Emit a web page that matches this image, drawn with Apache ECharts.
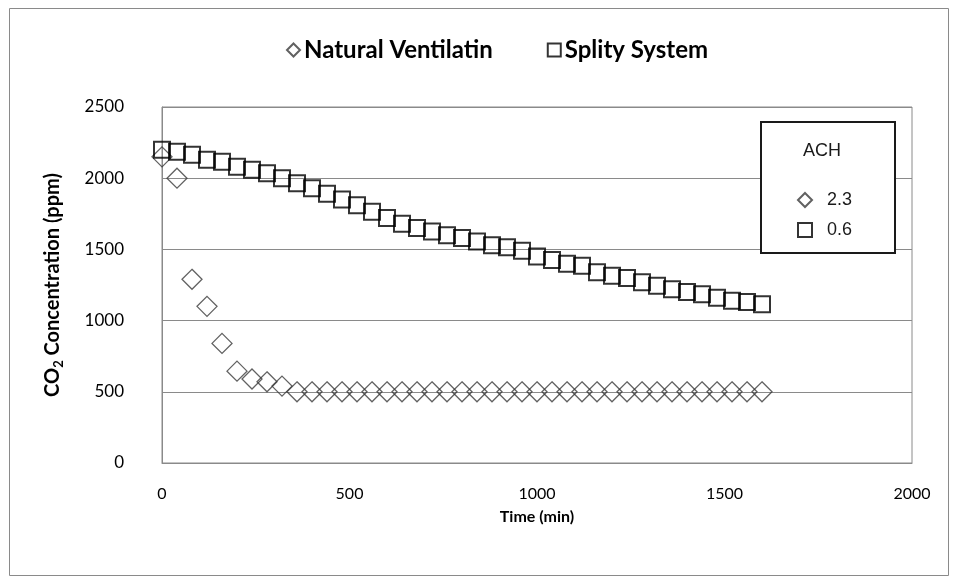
<!DOCTYPE html>
<html>
<head>
<meta charset="utf-8">
<script src="https://cdn.jsdelivr.net/npm/echarts@6/dist/echarts.min.js"></script>
<style>html,body{margin:0;padding:0;background:#fff;}#c{width:959px;height:581px;}</style>
</head>
<body>
<div id="c"></div>
<script>
const seriesNames = ['Natural Ventilatin', 'Splity System'];
const achLabels = ['2.3', '0.6'];
const timeMin = [0,40,80,120,160,200,240,280,320,360,400,440,480,520,560,600,640,680,720,760,800,840,880,920,960,1000,1040,1080,1120,1160,1200,1240,1280,1320,1360,1400,1440,1480,1520,1560,1600];
const naturalCO2 = [2150,2000,1290,1100,840,645,590,570,540,500,500,500,500,500,500,500,500,500,500,500,500,500,500,500,500,500,500,500,500,500,500,500,500,500,500,500,500,500,500,500,500];
const splityCO2 = [2200,2185,2165,2130,2115,2080,2060,2035,2000,1965,1930,1890,1850,1810,1765,1720,1680,1650,1625,1600,1580,1555,1530,1515,1490,1450,1425,1400,1385,1340,1315,1300,1270,1245,1220,1200,1185,1160,1140,1130,1115];
const xTicks = {min: 0, max: 2000, interval: 500};
const yTicks = {min: 0, max: 2500, interval: 500};

const chart = echarts.init(document.getElementById('c'), null, {renderer: 'canvas'});
const font = 'Lato, "Open Sans", sans-serif';
const plain = v => String(v);
chart.setOption({
  animation: false,
  backgroundColor: '#fff',
  grid: {left: 162, right: 47, top: 107, bottom: 118, show: true, borderColor: '#8a8a8a', borderWidth: 1, backgroundColor: 'transparent'},
  xAxis: {
    type: 'value', min: xTicks.min, max: xTicks.max, interval: xTicks.interval,
    name: 'Time (min)', nameLocation: 'middle', nameGap: 46,
    nameTextStyle: {fontFamily: font, fontWeight: 'bold', fontSize: 16, color: '#000'},
    axisLine: {show: true, lineStyle: {color: '#8a8a8a'}},
    axisTick: {show: false},
    axisLabel: {margin: 23, fontFamily: font, fontSize: 16, color: '#000', formatter: plain},
    splitLine: {show: false}
  },
  yAxis: {
    type: 'value', min: yTicks.min, max: yTicks.max, interval: yTicks.interval,
    name: 'CO{s|2} Concentration (ppm)', nameLocation: 'middle', nameGap: 97,
    nameTextStyle: {fontFamily: font, fontWeight: 'bold', fontSize: 20, color: '#000',
      rich: {s: {fontFamily: font, fontWeight: 'bold', fontSize: 13, color: '#000', padding: [12, 0, 0, 0]}}},
    axisLine: {show: true, lineStyle: {color: '#8a8a8a'}},
    axisTick: {show: false},
    axisLabel: {margin: 38, fontFamily: font, fontSize: 17, color: '#000', formatter: plain},
    splitLine: {show: true, lineStyle: {color: '#8a8a8a', width: 1}}
  },
  legend: [{
    data: [{name: seriesNames[0], icon: 'diamond'}, {name: seriesNames[1], icon: 'rect'}],
    top: 33, left: 281, itemWidth: 13, itemHeight: 13, itemGap: 54,
    textStyle: {fontFamily: font, fontWeight: 'bold', fontSize: 24, color: '#000', padding: [0,0,0,-1]}
  }, {
    data: [{name: seriesNames[0], icon: 'diamond'}, {name: seriesNames[1], icon: 'rect'}],
    orient: 'vertical', left: 792, top: 186, itemWidth: 14, itemHeight: 14, itemGap: 12, z: 30,
    formatter: function (n) { return achLabels[seriesNames.indexOf(n)]; },
    textStyle: {fontFamily: '"Liberation Sans", Arial, sans-serif', fontSize: 18, color: '#1a1a1a', padding: [0,0,0,10]}
  }],
  graphic: [
    {type: 'rect', shape: {x: 9.5, y: 8.5, width: 939, height: 567}, style: {fill: 'none', stroke: '#8a8a8a', lineWidth: 1}, z: 1},
    {type: 'rect', shape: {x: 761, y: 122, width: 134, height: 131}, style: {fill: '#fff', stroke: '#1a1a1a', lineWidth: 2}, z: 20},
    {type: 'text', x: 822, y: 151, style: {text: 'ACH', fill: '#1a1a1a', font: '18px "Liberation Sans", Arial, sans-serif', textAlign: 'center', textVerticalAlign: 'middle'}, z: 25}
  ],
  series: [{
    name: seriesNames[0], type: 'scatter', symbol: 'diamond', symbolSize: 20,
    data: timeMin.map((t, i) => [t, naturalCO2[i]]),
    itemStyle: {color: 'rgba(255,255,255,0)', borderColor: '#3a3a3a', borderWidth: 1.3},
    z: 3
  }, {
    name: seriesNames[1], type: 'scatter', symbol: 'rect', symbolSize: 16,
    data: timeMin.map((t, i) => [t, splityCO2[i]]),
    itemStyle: {color: 'rgba(255,255,255,0)', borderColor: '#000', borderWidth: 2},
    z: 4
  }]
});
</script>
</body>
</html>
